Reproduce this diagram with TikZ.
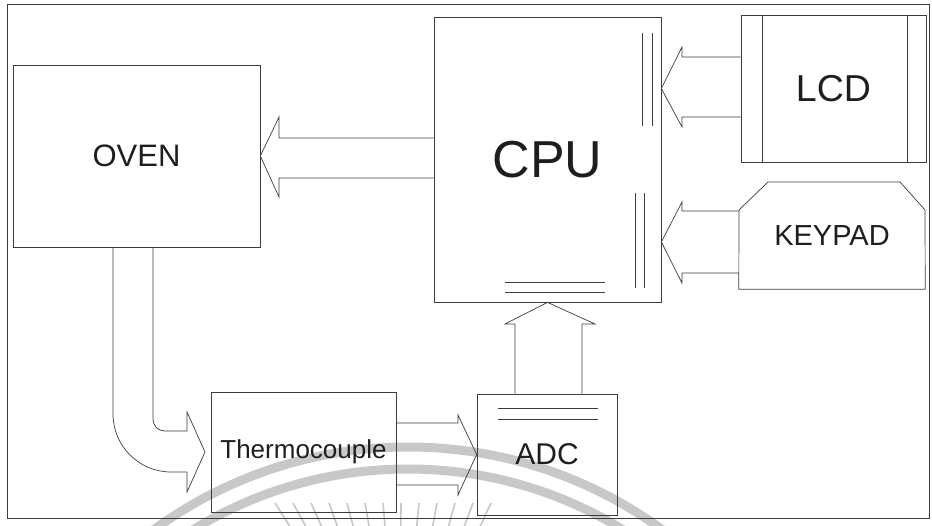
\documentclass[tikz,border=0pt]{standalone}
\usepackage{fontspec}
\setmainfont{Liberation Sans}
\usetikzlibrary{calc}
\definecolor{linec}{HTML}{3C3C3C}
\definecolor{textc}{HTML}{1E1E1E}
\definecolor{wmark}{HTML}{C8C8C8}
\begin{document}
\begin{tikzpicture}[x=1pt,y=-1pt]
\tikzset{
  blk/.style={draw=linec, line width=0.7pt, inner sep=0pt, text=textc, anchor=center},
  barrow/.style={draw=linec, line width=0.7pt, line join=miter},
  inner/.style={draw=linec, line width=0.7pt},
  frame/.style={draw=linec, line width=1pt},
  wm/.style={draw=wmark, line width=9pt},
  wmray/.style={draw=wmark, line width=1.6pt}
}
\useasboundingbox (0,0) rectangle (932,526);
\fill[white] (0,0) rectangle (932,526);
% watermark
\begin{scope}
\clip (0,0) rectangle (932,526);
\draw[wm] (408,879) circle (432);
\draw[wm] (408,879) circle (410);
\foreach \x in {275,293,...,500} \draw[wmray] (\x,503) -- ($(\x,503)!0.16!(400,700)$);
\end{scope}
% frame
\draw[frame] (7,5) rectangle (929,518);
% boxes
\node[blk, minimum width=247pt, minimum height=182pt, font=\fontsize{31}{31}\selectfont] (oven) at (136.5,156) {OVEN};
\node[blk, minimum width=227pt, minimum height=285pt, font=\fontsize{52}{52}\selectfont] (cpu) at (547.5,159.5) {CPU};
\node[blk, minimum width=185pt, minimum height=147pt, font=\fontsize{37.5}{37.5}\selectfont] (lcd) at (833.5,88.5) {LCD};
\node[inner sep=0pt, text=textc, minimum width=186pt, minimum height=106pt, font=\fontsize{29}{29}\selectfont] (keypad) at (832,236) {KEYPAD};
\node[blk, minimum width=140pt, minimum height=121pt, font=\fontsize{30}{30}\selectfont] (adc) at (547,454.5) {ADC};
\node[blk, minimum width=185pt, minimum height=120pt, font=\fontsize{26}{26}\selectfont] (thermo) at (303.5,452) {Thermocouple};
% keypad outline
\draw[inner] (keypad.south west) -- (739,210) -- (768,182) -- (900,182) -- (925,210) -- (keypad.south east) -- cycle;
% inner decorations
\draw[inner] (642,33) -- (642,126) (652,33) -- (652,126);
\draw[inner] (635,193) -- (635,288) (644,193) -- (644,288);
\draw[inner] (505,282) -- (605,282) (505,292) -- (605,292);
\draw[inner] (762,15) -- (762,162) (907,15) -- (907,162);
\draw[inner] (498,408) -- (598,408) (498,419) -- (598,419);
% block arrows
\draw[barrow] (lcd.west |- 0,57) -- (682,57) -- (682,47) -- (lcd.west -| cpu.east) -- (682,127) -- (682,117) -- (lcd.west |- 0,117);
\draw[barrow] (739,211) -- (682,211) -- (682,202) -- (cpu.east |- 0,242) -- (682,283) -- (682,273) -- (739,273);
\draw[barrow] (cpu.west |- 0,138) -- (279,138) -- (279,117) -- (oven.east) -- (279,197) -- (279,178) -- (cpu.west |- 0,178);
\draw[barrow] (adc.north -| 515,0) -- (515,324) -- (505,324) -- (cpu.south) -- (595,324) -- (582,324) -- (adc.north -| 582,0);
\draw[barrow] (thermo.east |- 0,423) -- (458,423) -- (458,415) -- (adc.west) -- (458,495) -- (458,485) -- (thermo.east |- 0,485);
\draw[barrow] (oven.south -| 113,0) -- (113,414) .. controls (113,446) and (139,472) .. (171,472) -- (187,472) -- (187,492) -- (205,452) -- (187,412) -- (187,431) -- (165,431) .. controls (158,431) and (153,426) .. (153,419) -- (oven.south -| 153,0);
\end{tikzpicture}
\end{document}
